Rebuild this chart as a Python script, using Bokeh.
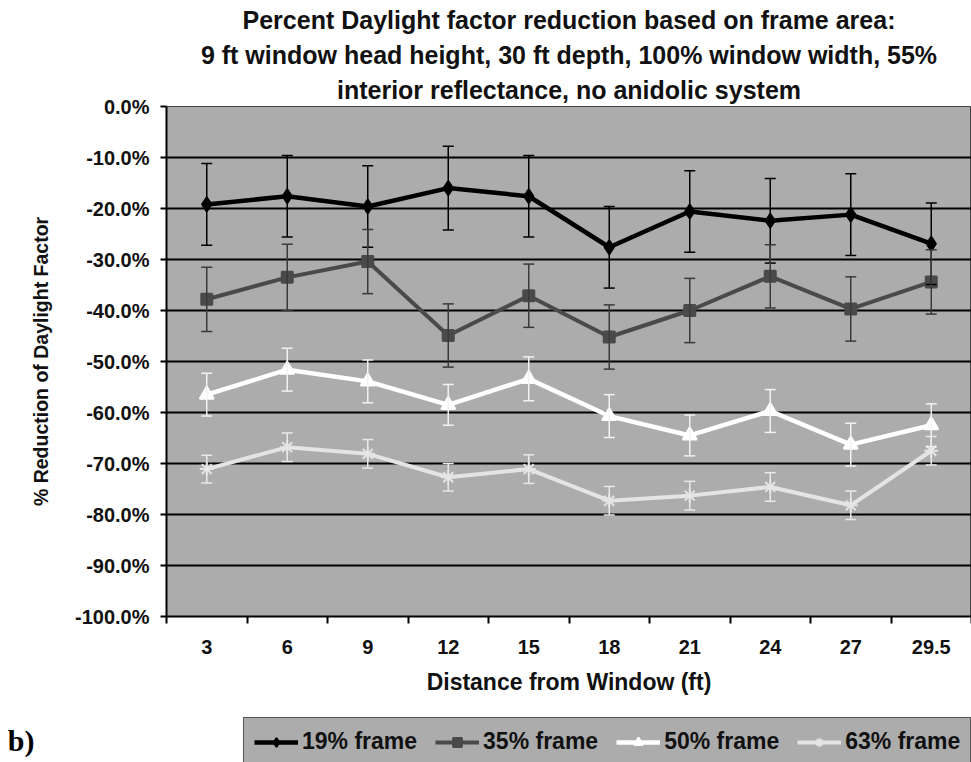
from bokeh.plotting import figure
from bokeh.layouts import column
from bokeh.models import (Range1d, FixedTicker, PrintfTickFormatter, Whisker, TeeHead,
                          ColumnDataSource, Legend, LegendItem, Title)
from bokeh.embed import file_html
from bokeh.resources import INLINE

# ---------------- data ----------------
categories = ["3", "6", "9", "12", "15", "18", "21", "24", "27", "29.5"]
y_ticks = [-100, -90, -80, -70, -60, -50, -40, -30, -20, -10, 0]
grid_ticks = [-90, -80, -70, -60, -50, -40, -30, -20, -10]
title_lines = [
    "Percent Daylight factor reduction based on frame area:",
    "9 ft window head height, 30 ft depth, 100% window width, 55%",
    "interior reflectance, no anidolic system",
]
series_names = ["19% frame", "35% frame", "50% frame", "63% frame"]
panel_tag = "b)"

frame19 = [-19.2, -17.6, -19.6, -16.0, -17.6, -27.6, -20.6, -22.4, -21.2, -26.9]
err19 = [8.0, 8.0, 8.0, 8.2, 8.0, 8.0, 8.0, 8.3, 8.0, 8.0]
frame35 = [-37.8, -33.5, -30.4, -44.9, -37.1, -45.2, -40.0, -33.3, -39.7, -34.4]
err35 = [6.3, 6.5, 6.3, 6.2, 6.2, 6.3, 6.3, 6.2, 6.3, 6.3]
frame50 = [-56.5, -51.6, -53.9, -58.5, -53.4, -60.7, -64.5, -59.7, -66.3, -62.5]
err50 = [4.2, 4.2, 4.2, 4.0, 4.3, 4.2, 4.0, 4.2, 4.2, 4.2]
frame63 = [-71.1, -66.8, -68.1, -72.7, -71.1, -77.3, -76.3, -74.6, -78.2, -67.5]
err63 = [2.7, 2.8, 2.8, 2.7, 2.8, 2.8, 2.8, 2.8, 2.8, 2.8]

# ---------------- styles ----------------
FONT = "Liberation Sans"
TXT = "#111111"
PLOT_BG = "#acacac"
line_colors = ["#000000", "#4a4a4a", "#ffffff", "#e4e4e4"]
err_colors = ["#000000", "#3a3a3a", "#f2f2f2", "#e8e8e8"]
markers = ["diamond", "square", "triangle", "asterisk"]
marker_sizes = [14, 11, 14, 14]
line_widths = [4.5, 4, 4.5, 4]

x_pos = [i + 0.5 for i in range(len(categories))]
all_vals = [frame19, frame35, frame50, frame63]
all_errs = [err19, err35, err50, err63]

p = figure(width=971, height=708, output_backend="svg", toolbar_location=None,
           title=None, x_range=Range1d(0, len(categories)), y_range=Range1d(-100, 0),
           min_border_left=166, min_border_right=0, min_border_top=106,
           min_border_bottom=92)
p.background_fill_color = PLOT_BG
p.border_fill_color = "white"
p.outline_line_color = "#444444"
p.outline_line_width = 1

# titles (first added sits closest to the frame)
for line in reversed(title_lines):
    p.add_layout(Title(text=line, align="center", text_font=FONT,
                       text_font_size="25px", text_font_style="bold",
                       text_color=TXT, standoff=5), "above")

# x axis
xa = p.xaxis[0]
xa.ticker = FixedTicker(ticks=x_pos, minor_ticks=list(range(0, len(categories) + 1)))
xa.major_label_overrides = {x: c for x, c in zip(x_pos, categories)}
xa.major_tick_out = 0
xa.major_tick_in = 0
xa.minor_tick_out = 7
xa.minor_tick_in = 0
xa.minor_tick_line_color = "black"
xa.minor_tick_line_width = 2
xa.axis_line_color = "black"
xa.axis_line_width = 2
xa.major_label_text_font = FONT
xa.major_label_text_font_style = "bold"
xa.major_label_text_font_size = "20px"
xa.major_label_text_color = TXT
xa.major_label_standoff = 16
xa.axis_label = "Distance from Window (ft)"
xa.axis_label_text_font = FONT
xa.axis_label_text_font_style = "bold"
xa.axis_label_text_font_size = "23px"
xa.axis_label_text_color = TXT
xa.axis_label_standoff = 12

# y axis
ya = p.yaxis[0]
ya.ticker = FixedTicker(ticks=y_ticks)
ya.formatter = PrintfTickFormatter(format="%.1f%%")
ya.major_tick_out = 6
ya.major_tick_in = 0
ya.major_tick_line_color = "black"
ya.major_tick_line_width = 2
ya.minor_tick_line_color = None
ya.axis_line_color = "black"
ya.axis_line_width = 2
ya.major_label_text_font = FONT
ya.major_label_text_font_style = "bold"
ya.major_label_text_font_size = "20px"
ya.major_label_text_color = TXT
ya.major_label_standoff = 11
ya.axis_label = "% Reduction of Daylight Factor"
ya.axis_label_text_font = FONT
ya.axis_label_text_font_style = "bold"
ya.axis_label_text_font_size = "19.5px"
ya.axis_label_text_color = TXT
ya.axis_label_standoff = 20

# grid
p.xgrid.visible = False
p.ygrid.ticker = FixedTicker(ticks=grid_ticks)
p.ygrid.grid_line_color = "black"
p.ygrid.grid_line_width = 2

# series
for vals, errs, lc, ec, mk, ms, lw in zip(all_vals, all_errs, line_colors, err_colors,
                                           markers, marker_sizes, line_widths):
    src = ColumnDataSource(dict(x=x_pos, y=vals,
                                upper=[v + e for v, e in zip(vals, errs)],
                                lower=[v - e for v, e in zip(vals, errs)]))
    w = Whisker(source=src, base="x", upper="upper", lower="lower",
                line_color=ec, line_width=1.5, level="glyph",
                upper_head=TeeHead(size=11, line_color=ec, line_width=1.5),
                lower_head=TeeHead(size=11, line_color=ec, line_width=1.5))
    p.add_layout(w)
    p.line("x", "y", source=src, line_color=lc, line_width=lw)
    p.scatter("x", "y", source=src, marker=mk, size=ms,
              fill_color=lc, line_color=lc, line_width=2)

# ---------------- legend strip (below the chart) ----------------
p2 = figure(width=971, height=54, output_backend="svg", toolbar_location=None,
            title=None, x_range=Range1d(0, len(categories)), y_range=Range1d(0, 1),
            x_axis_type=None, min_border=0, min_border_left=166)
p2.outline_line_color = None
p2.background_fill_color = "white"
p2.border_fill_color = "white"
p2.grid.visible = False
# the "b)" panel tag drawn as the strip's single axis label
ta = p2.yaxis[0]
ta.ticker = FixedTicker(ticks=[0.4])
ta.major_label_overrides = {0.4: panel_tag}
ta.axis_line_color = None
ta.major_tick_line_color = None
ta.minor_tick_line_color = None
ta.major_label_standoff = 126
ta.major_label_text_font = "Liberation Serif"
ta.major_label_text_font_style = "bold"
ta.major_label_text_font_size = "30px"
ta.major_label_text_color = "black"

items = []
for name, vals, lc, mk, ms, lw in zip(series_names, all_vals, line_colors, markers,
                                      marker_sizes, line_widths):
    # same series, outside this strip's visible range: used only for legend swatches
    rl = p2.line(x_pos, vals, line_color=lc, line_width=lw)
    rm = p2.scatter(x_pos, vals, marker=mk, size=ms, fill_color=lc, line_color=lc,
                    line_width=2)
    items.append(LegendItem(label=name, renderers=[rl, rm]))

legend = Legend(items=items, orientation="horizontal", location=(77, -4),
                background_fill_color=PLOT_BG, background_fill_alpha=1.0,
                border_line_color="black", border_line_width=1,
                label_text_font=FONT, label_text_font_style="bold",
                label_text_font_size="23px", label_text_color=TXT,
                glyph_width=44, glyph_height=22, label_standoff=4,
                spacing=18, padding=10, margin=0)
p2.add_layout(legend)

layout = column(p, p2, spacing=0)
open("out.html", "w").write(file_html(layout, INLINE))
